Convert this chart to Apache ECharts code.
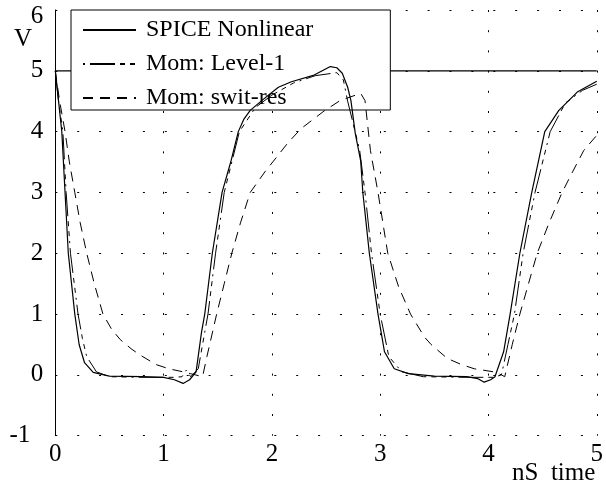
<!DOCTYPE html>
<html>
<head>
<meta charset="utf-8">
<script src="https://cdn.jsdelivr.net/npm/echarts@6/dist/echarts.min.js"></script>
<style>
  html, body { margin: 0; padding: 0; background: #fff; }
  #main { width: 606px; height: 482px; }
</style>
</head>
<body>
<div id="main"></div>
<script>
// time axis in nS, voltage in V
const spiceT = [0, 0.03, 0.06, 0.09, 0.12, 0.15, 0.18, 0.22, 0.27, 0.35, 0.5, 0.8, 1.0, 1.1, 1.18, 1.24, 1.3, 1.35, 1.38, 1.45, 1.54, 1.62, 1.69, 1.74, 1.8, 1.92, 2.06, 2.18, 2.39, 2.54, 2.6, 2.65, 2.7, 2.73, 2.77, 2.82, 2.84, 2.9, 2.98, 3.04, 3.13, 3.26, 3.5, 3.8, 3.9, 3.96, 4.02, 4.06, 4.14, 4.2, 4.29, 4.4, 4.52, 4.65, 4.82, 5.0];
const spiceV = [5, 4.5, 4.0, 3.0, 2.0, 1.5, 1.0, 0.5, 0.2, 0.04, -0.02, -0.03, -0.04, -0.08, -0.14, -0.08, 0.05, 0.7, 1.0, 2.0, 3.0, 3.5, 4.0, 4.2, 4.35, 4.53, 4.73, 4.82, 4.93, 5.07, 5.05, 4.96, 4.73, 4.51, 3.97, 3.52, 3.0, 2.0, 1.0, 0.38, 0.1, 0.02, -0.02, -0.03, -0.06, -0.12, -0.08, -0.03, 0.38, 1.0, 2.0, 3.0, 4.0, 4.35, 4.65, 4.83];

const level1T = [0, 0.03, 0.07, 0.1, 0.14, 0.21, 0.25, 0.29, 0.38, 0.5, 0.8, 1.1, 1.17, 1.21, 1.25, 1.32, 1.38, 1.41, 1.48, 1.56, 1.7, 1.85, 2.0, 2.2, 2.4, 2.6, 2.66, 2.7, 2.81, 2.86, 2.92, 3.0, 3.08, 3.2, 3.4, 3.8, 4.05, 4.12, 4.18, 4.24, 4.32, 4.43, 4.57, 4.71, 4.87, 5.0];
const level1V = [5, 4.5, 4.0, 3.0, 2.0, 1.0, 0.6, 0.3, 0.05, -0.03, -0.04, -0.04, -0.03, 0.08, -0.03, 0.1, 0.7, 1.0, 2.0, 3.0, 4.0, 4.4, 4.6, 4.8, 4.92, 4.97, 4.85, 4.5, 3.7, 3.0, 2.0, 1.0, 0.3, 0.05, -0.03, -0.04, -0.04, 0.0, 0.5, 1.0, 2.0, 3.0, 4.0, 4.47, 4.68, 4.78];

const switT = [0, 0.04, 0.09, 0.13, 0.18, 0.23, 0.29, 0.36, 0.44, 0.52, 0.6, 0.7, 0.78, 0.93, 1.05, 1.18, 1.25, 1.36, 1.4, 1.49, 1.56, 1.63, 1.71, 1.8, 1.94, 2.03, 2.15, 2.27, 2.38, 2.49, 2.63, 2.82, 2.86, 2.91, 2.98, 3.07, 3.17, 3.28, 3.41, 3.47, 3.62, 3.75, 3.87, 4.05, 4.12, 4.15, 4.22, 4.29, 4.37, 4.45, 4.56, 4.68, 4.78, 4.88, 5.0];
const switV = [5, 4.5, 4.0, 3.5, 3.0, 2.5, 2.0, 1.5, 1.0, 0.75, 0.58, 0.43, 0.33, 0.17, 0.1, 0.05, 0.02, -0.03, 0.3, 1.0, 1.5, 2.0, 2.5, 3.0, 3.35, 3.55, 3.82, 4.05, 4.2, 4.35, 4.51, 4.63, 4.51, 3.69, 3.0, 2.0, 1.45, 1.0, 0.62, 0.5, 0.27, 0.17, 0.1, 0.05, 0.0, -0.03, 0.5, 1.0, 1.5, 2.0, 2.5, 3.0, 3.35, 3.69, 3.94];

// the 5 V supply level (hidden behind the legend box)
const refT = [0, 5];
const refV = [5, 5];

const xTicks = [0, 1, 2, 3, 4, 5];
const yTicks = [-1, 0, 1, 2, 3, 4, 5, 6];

const names = ["SPICE Nonlinear", "Mom: Level-1", "Mom: swit-res"];

const pairs = (t, v) => t.map((x, i) => [x, v[i]]);
const serif = "Liberation Serif";

const chart = echarts.init(document.getElementById("main"));

const dots = (gap) => ({ color: "#000", width: 1, type: [2, gap] });

chart.setOption({
  animation: false,
  backgroundColor: "#fff",
  grid: { left: 55.3, right: 4, top: 10, bottom: 46.3, containLabel: false },
  xAxis: {
    type: "value",
    min: xTicks[0],
    max: xTicks[xTicks.length - 1],
    interval: 1,
    axisLine: { show: false },
    axisTick: { show: false },
    splitLine: { show: true, lineStyle: dots(18.2) },
    axisLabel: { color: "#000", fontFamily: serif, fontSize: 25, margin: 6 },
  },
  yAxis: {
    type: "value",
    min: yTicks[0],
    max: yTicks[yTicks.length - 1],
    interval: 1,
    axisLine: { show: true, onZero: false, lineStyle: { color: "#000", width: 1 } },
    axisTick: { show: false },
    splitLine: { show: true, lineStyle: dots(19.9) },
    axisLabel: {
      color: "#000",
      fontFamily: serif,
      fontSize: 25,
      margin: 12,
      formatter: (v) => (v === 6 ? "{six|6}" : v === -1 ? "{neg|-1}" : String(v)),
      rich: {
        six: { fontFamily: serif, fontSize: 25, color: "#000", padding: [13, 0, 0, 0] },
        neg: { fontFamily: serif, fontSize: 25, color: "#000", padding: [0, 13, 0, 0] },
      },
    },
  },
  legend: {
    data: names,
    orient: "vertical",
    left: 71,
    top: 10,
    z: 1,
    backgroundColor: "#fff",
    borderColor: "#000",
    borderWidth: 1,
    borderRadius: 0,
    padding: [8, 77, 0, 11],
    itemWidth: 53,
    itemHeight: 16,
    itemGap: 10,
    itemStyle: { opacity: 0 },
    textStyle: { color: "#000", fontFamily: serif, fontSize: 24, padding: [0, 0, 0, 5] },
  },
  graphic: [
    { type: "text", left: 14, top: 27, style: { text: "V", font: "25px " + serif, fill: "#000" } },
    { type: "text", left: 512, top: 461, style: { text: "nS  time", font: "25px " + serif, fill: "#000" } },
  ],
  series: [
    {
      name: "ref",
      type: "line",
      z: 0,
      symbol: "none",
      silent: true,
      data: pairs(refT, refV),
      lineStyle: { color: "#000", width: 1.2 },
    },
    {
      name: names[0],
      type: "line",
      symbol: "none",
      data: pairs(spiceT, spiceV),
      lineStyle: { color: "#000", width: 1.2, type: "solid" },
      itemStyle: { color: "#000" },
    },
    {
      name: names[1],
      type: "line",
      symbol: "none",
      data: pairs(level1T, level1V),
      lineStyle: { color: "#000", width: 1, type: [2, 5, 25, 5, 5, 5, 5, 5] },
      itemStyle: { color: "#000" },
    },
    {
      name: names[2],
      type: "line",
      symbol: "none",
      data: pairs(switT, switV),
      lineStyle: { color: "#000", width: 1, type: [10, 7] },
      itemStyle: { color: "#000" },
    },
  ],
});
</script>
</body>
</html>
